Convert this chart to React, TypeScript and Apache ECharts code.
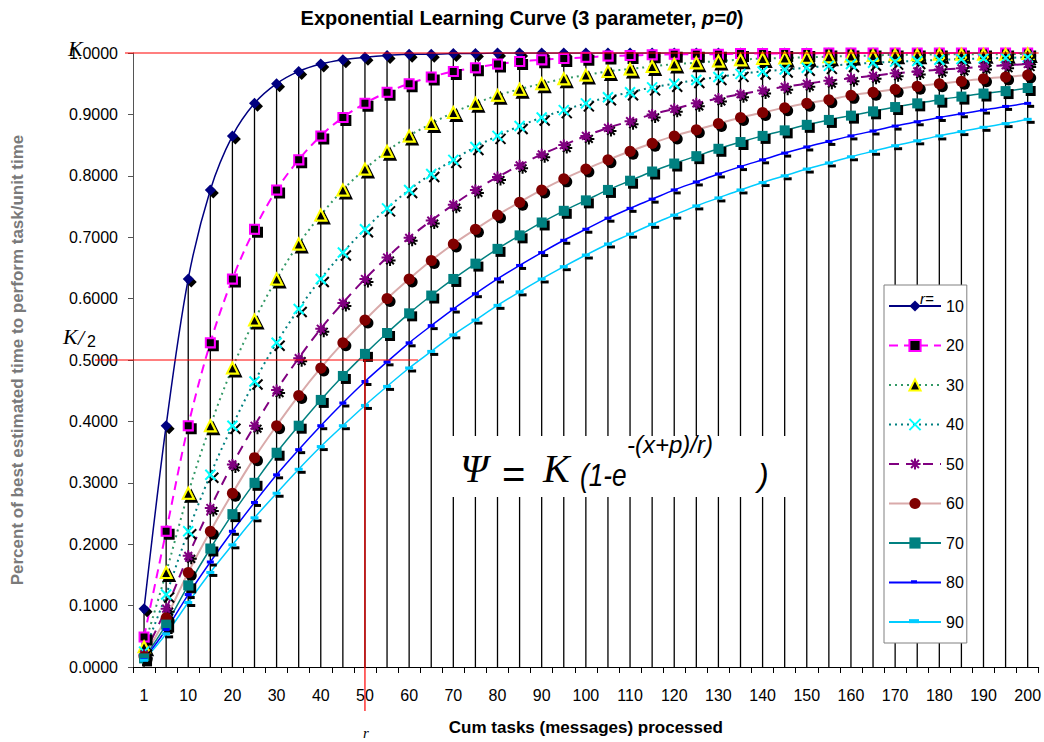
import React, { useEffect, useRef } from "react";
import * as echarts from "echarts";

const categories = ["1","5","10","15","20","25","30","35","40","45","50","55","60","65","70","75","80","85","90","95","100","105","110","115","120","125","130","135","140","145","150","155","160","165","170","175","180","185","190","195","200"];

const seriesNames = ["10","20","30","40","50","60","70","80","90"];

const r10 = [0.095,0.393,0.632,0.777,0.865,0.918,0.950,0.970,0.982,0.989,0.993,0.996,0.998,0.998,0.999,0.999,1,1,1,1,1,1,1,1,1,1,1,1,1,1,1,1,1,1,1,1,1,1,1,1,1];
const r20 = [0.049,0.221,0.393,0.528,0.632,0.713,0.777,0.826,0.865,0.895,0.918,0.936,0.950,0.961,0.970,0.976,0.982,0.986,0.989,0.991,0.993,0.995,0.996,0.997,0.998,0.998,0.998,0.999,0.999,0.999,0.999,1,1,1,1,1,1,1,1,1,1];
const r30 = [0.033,0.154,0.283,0.393,0.487,0.565,0.632,0.689,0.736,0.777,0.811,0.840,0.865,0.885,0.903,0.918,0.931,0.941,0.950,0.958,0.964,0.970,0.974,0.978,0.982,0.984,0.987,0.989,0.991,0.992,0.993,0.994,0.995,0.996,0.997,0.997,0.998,0.998,0.998,0.998,0.999];
const r40 = [0.025,0.118,0.221,0.313,0.393,0.465,0.528,0.583,0.632,0.675,0.713,0.747,0.777,0.803,0.826,0.847,0.865,0.881,0.895,0.907,0.918,0.928,0.936,0.944,0.950,0.956,0.961,0.966,0.970,0.973,0.976,0.979,0.982,0.984,0.986,0.987,0.989,0.990,0.991,0.992,0.993];
const r50 = [0.020,0.095,0.181,0.259,0.330,0.393,0.451,0.503,0.551,0.593,0.632,0.667,0.699,0.727,0.753,0.777,0.798,0.817,0.835,0.850,0.865,0.878,0.889,0.900,0.909,0.918,0.926,0.933,0.939,0.945,0.950,0.955,0.959,0.963,0.967,0.970,0.973,0.975,0.978,0.980,0.982];
const r60 = [0.017,0.080,0.154,0.221,0.283,0.341,0.393,0.442,0.487,0.528,0.565,0.600,0.632,0.662,0.689,0.713,0.736,0.757,0.777,0.795,0.811,0.826,0.840,0.853,0.865,0.875,0.885,0.895,0.903,0.911,0.918,0.924,0.931,0.936,0.941,0.946,0.950,0.954,0.958,0.961,0.964];
const r70 = [0.014,0.069,0.133,0.193,0.249,0.300,0.349,0.393,0.435,0.474,0.510,0.544,0.576,0.605,0.632,0.657,0.681,0.703,0.724,0.743,0.760,0.777,0.792,0.807,0.820,0.832,0.844,0.855,0.865,0.874,0.883,0.891,0.898,0.905,0.912,0.918,0.924,0.929,0.934,0.938,0.943];
const r80 = [0.012,0.061,0.118,0.171,0.221,0.268,0.313,0.354,0.393,0.430,0.465,0.497,0.528,0.556,0.583,0.608,0.632,0.654,0.675,0.695,0.713,0.731,0.747,0.762,0.777,0.790,0.803,0.815,0.826,0.837,0.847,0.856,0.865,0.873,0.881,0.888,0.895,0.901,0.907,0.913,0.918];
const r90 = [0.011,0.054,0.105,0.154,0.199,0.243,0.283,0.322,0.359,0.393,0.426,0.457,0.487,0.514,0.541,0.565,0.589,0.611,0.632,0.652,0.671,0.689,0.705,0.721,0.736,0.751,0.764,0.777,0.789,0.800,0.811,0.821,0.831,0.840,0.849,0.857,0.865,0.872,0.879,0.885,0.892];

const seriesValues = [r10, r20, r30, r40, r50, r60, r70, r80, r90];

const SANS = '"Liberation Sans", Arial, sans-serif';
const SERIF = '"Liberation Serif", "Times New Roman", serif';

const DASH = "path://M0,0L10,0L10,3.5L0,3.5Z";

const styles: any[] = [
  { line: { color: "#000080", width: 1.5, type: "solid" }, symbol: "diamond", size: 11, item: { color: "#000080" } },
  { line: { color: "#FF00FF", width: 2, type: [9, 6] }, symbol: "rect", size: 9, item: { color: "#000000", borderColor: "#FF00FF", borderWidth: 2 } },
  { line: { color: "#339966", width: 2, type: [2, 4] }, symbol: "triangle", size: 11, item: { color: "#000000", borderColor: "#FFFF00", borderWidth: 2 } },
  { line: { color: "#008080", width: 2, type: [2, 4] }, symbol: "path://M0,0L10,10M10,0L0,10", size: 10, item: { color: "#00FFFF", borderColor: "#00FFFF", borderWidth: 2 } },
  { line: { color: "#800080", width: 2, type: [10, 7] }, symbol: "path://M5,0L5,10M0,5L10,5M1.5,1.5L8.5,8.5M8.5,1.5L1.5,8.5", size: 11, item: { color: "#800080", borderColor: "#800080", borderWidth: 2 } },
  { line: { color: "#D9AAAA", width: 2, type: "solid" }, symbol: "circle", size: 11, item: { color: "#800000" } },
  { line: { color: "#008080", width: 1.5, type: "solid" }, symbol: "rect", size: 10, item: { color: "#008080" } },
  { line: { color: "#0000FF", width: 1.5, type: "solid" }, symbol: DASH, size: [7, 3], item: { color: "#0000FF" }, legendDash: [6, 3] },
  { line: { color: "#00CCFF", width: 1.5, type: "solid" }, symbol: DASH, size: [8, 3], item: { color: "#00CCFF" }, legendDash: [10, 4] },
];

const LEGEND_TOP = 285;
const LEGEND_PAD = 13;
const LEGEND_ROW_H = 15.9;
const LEGEND_PITCH = 39.4;
const LEGEND_LEFT = 884;
const LEGEND_ITEM_W = 52;

export default function App() {
  const ref = useRef<HTMLDivElement>(null);
  useEffect(() => {
    const chart = echarts.init(ref.current!, null, { renderer: "svg" });
    const lineSeries = seriesNames.map((name, i) => ({
      name,
      type: "line",
      data: seriesValues[i],
      smooth: 0.35,
      symbol: styles[i].symbol,
      symbolSize: styles[i].size,
      lineStyle: styles[i].line,
      itemStyle: {
        ...styles[i].item,
        shadowColor: "#000000",
        shadowOffsetX: 3,
        shadowOffsetY: 3,
        shadowBlur: 0,
      },
      z: 3,
    }));
    const legendData = seriesNames.map((n, i) =>
      styles[i].legendDash ? { name: n, itemStyle: { opacity: 0 } } : n
    );
    const option: any = {
      animation: false,
      backgroundColor: "#ffffff",
      title: {
        text: "{b|Exponential Learning Curve (3 parameter, }{i|p=0}{b|)}",
        left: "center",
        top: 3,
        textStyle: {
          rich: {
            b: { fontFamily: SANS, fontWeight: "bold", fontSize: 20, color: "#000" },
            i: { fontFamily: SANS, fontWeight: "bold", fontStyle: "italic", fontSize: 20, color: "#000" },
          },
        },
      },
      grid: { left: 133, right: 3, top: 53, bottom: 75 },
      legend: {
        data: legendData,
        orient: "vertical",
        left: LEGEND_LEFT,
        top: LEGEND_TOP,
        itemWidth: LEGEND_ITEM_W,
        itemHeight: 14,
        itemGap: LEGEND_PITCH - LEGEND_ROW_H,
        padding: [LEGEND_PAD, 3, LEGEND_PAD, 4],
        backgroundColor: "#ffffff",
        borderColor: "#808080",
        borderWidth: 1,
        selectedMode: false,
        textStyle: { fontFamily: SANS, fontSize: 16, color: "#000" },
      },
      xAxis: {
        type: "category",
        data: categories,
        name: "Cum tasks (messages) processed",
        nameLocation: "middle",
        nameGap: 52,
        nameTextStyle: { fontFamily: SANS, fontWeight: "bold", fontSize: 17, color: "#000" },
        axisLine: { lineStyle: { color: "#000", width: 1 } },
        axisTick: { show: true, interval: 0, length: 6, lineStyle: { color: "#000" } },
        axisLabel: { interval: 1, margin: 20, fontFamily: SANS, fontSize: 16, color: "#000" },
        splitLine: { show: false },
      },
      yAxis: {
        type: "value",
        min: 0,
        max: 1,
        interval: 0.1,
        name: "Percent of best estimated time to perform task/unit time",
        nameLocation: "middle",
        nameGap: 107,
        nameTextStyle: { fontFamily: SANS, fontWeight: "bold", fontSize: 17, color: "#7a7a7a" },
        axisLine: { show: true, lineStyle: { color: "#555", width: 1 } },
        axisTick: { show: true, length: 5, lineStyle: { color: "#555" } },
        axisLabel: { margin: 15, fontFamily: SANS, fontSize: 16, color: "#000", formatter: (v: number) => v.toFixed(4) },
        splitLine: { show: false },
      },
      series: [
        {
          name: "drop",
          type: "bar",
          data: r10,
          barWidth: 1.3,
          itemStyle: { color: "#000" },
          silent: true,
          z: 1,
        },
        ...lineSeries,
      ],
    };
    chart.setOption(option);

    const px = (c: string, v: number) => chart.convertToPixel({ xAxisIndex: 0, yAxisIndex: 0 }, [c, v]) as number[];
    const p50half = px("50", 0.5);
    const pOne = px("1", 1);
    const pEnd = px("200", 1);
    const pZero = px("50", 0);

    const legendMarks: any[] = [];
    seriesNames.forEach((n, i) => {
      const d = styles[i].legendDash;
      if (!d) return;
      const cy = LEGEND_TOP + LEGEND_PAD + LEGEND_ROW_H / 2 + i * LEGEND_PITCH;
      const cx = LEGEND_LEFT + 4 + LEGEND_ITEM_W / 2;
      legendMarks.push({
        type: "rect",
        shape: { x: cx - d[0] / 2, y: cy - d[1] / 2, width: d[0], height: d[1] },
        style: { fill: styles[i].item.color },
        z: 20,
      });
    });

    chart.setOption({
      graphic: [
        { type: "line", shape: { x1: 125, y1: pOne[1], x2: pEnd[0] + 11, y2: pOne[1] }, style: { stroke: "#FF0000", lineWidth: 1.2 }, z: 5 },
        { type: "line", shape: { x1: 95, y1: p50half[1], x2: p50half[0] + 53, y2: p50half[1] }, style: { stroke: "#FF0000", lineWidth: 1.2 }, z: 5 },
        { type: "line", shape: { x1: p50half[0], y1: p50half[1], x2: p50half[0], y2: pZero[1] + 44 }, style: { stroke: "#FF0000", lineWidth: 1.2 }, z: 5 },
        { type: "text", x: 68, y: 48, style: { text: "K", font: "italic 22px " + SERIF, fill: "#000", verticalAlign: "middle" }, z: 6 },
        { type: "text", x: 63, y: 336, style: { text: "K", font: "italic 22px " + SERIF, fill: "#000", verticalAlign: "middle" }, z: 6 },
        { type: "text", x: 78, y: 337, style: { text: "/", font: "italic 22px " + SERIF, fill: "#000", verticalAlign: "middle" }, z: 6 },
        { type: "text", x: 87, y: 341, style: { text: "2", font: "16px " + SANS, fill: "#000", verticalAlign: "middle" }, z: 6 },
        { type: "text", x: p50half[0] - 2, y: 733, style: { text: "r", font: "italic 15px " + SERIF, fill: "#000", verticalAlign: "middle" }, z: 6 },
        { type: "text", x: 920, y: 298, style: { text: "r=", font: "italic 15px " + SANS, fill: "#000", verticalAlign: "middle" }, z: 20 },
        { type: "rect", shape: { x: 448, y: 436, width: 344, height: 61 }, style: { fill: "#ffffff" }, z: 7 },
        { type: "text", x: 460, y: 468, style: { text: "Ψ", font: "italic 40px " + SERIF, fill: "#000", verticalAlign: "middle" }, z: 8 },
        { type: "text", x: 502, y: 474, style: { text: "=", font: "40px " + SANS, fill: "#000", verticalAlign: "middle" }, z: 8 },
        { type: "text", x: 543, y: 468, style: { text: "K", font: "italic 40px " + SERIF, fill: "#000", verticalAlign: "middle" }, z: 8 },
        { type: "text", x: 580, y: 475, scaleX: 0.82, style: { text: "(1-e", font: "italic 32px " + SANS, fill: "#000", verticalAlign: "middle" }, z: 8 },
        { type: "text", x: 627, y: 444, style: { text: "-(x+p)/r)", font: "italic 24px " + SANS, fill: "#000", verticalAlign: "middle" }, z: 8 },
        { type: "text", x: 758, y: 475, style: { text: ")", font: "italic 32px " + SANS, fill: "#000", verticalAlign: "middle" }, z: 8 },
        ...legendMarks,
      ],
    });
    return () => chart.dispose();
  }, []);
  return <div ref={ref} style={{ position: "fixed", left: 0, top: 0, width: 1044, height: 742 }} />;
}
